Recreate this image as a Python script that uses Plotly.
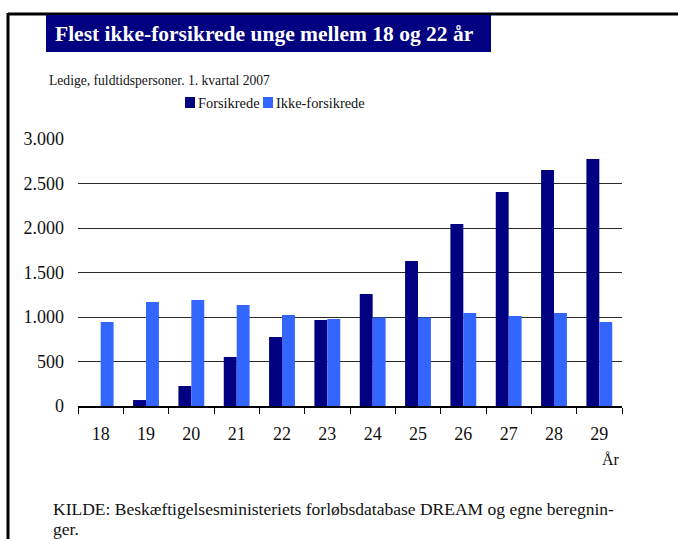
import plotly.graph_objects as go

ages = ["18", "19", "20", "21", "22", "23", "24", "25", "26", "27", "28", "29"]
forsikrede = [0, 67, 225, 551, 775, 966, 1258, 1629, 2045, 2404, 2652, 2775]
ikke_forsikrede = [945, 1169, 1191, 1135, 1022, 978, 993, 993, 1045, 1011, 1045, 944]
y_ticks = [0, 500, 1000, 1500, 2000, 2500, 3000]

title_text = "Flest ikke-forsikrede unge mellem 18 og 22 år"
subtitle_text = "Ledige, fuldtidspersoner. 1. kvartal 2007"
source_line1 = "KILDE: Beskæftigelsesministeriets forløbsdatabase DREAM og egne beregnin-"
source_line2 = "ger."
x_unit = "År"

DARK = "#000080"
LIGHT = "#3366FF"
FONT = "Liberation Serif"

W, H = 678, 539
L, R, T, B = 78, 622, 139, 406


def px(x):
    return (x - L) / (R - L)


def py(y):
    return (B - y) / (B - T)


fig = go.Figure()
fig.add_trace(go.Bar(x=ages, y=forsikrede, name="Forsikrede", marker_color=DARK,
                     marker_line_width=0))
fig.add_trace(go.Bar(x=ages, y=ikke_forsikrede, name="Ikke-forsikrede", marker_color=LIGHT,
                     marker_line_width=0))

shapes = []
annotations = []

# frame lines
shapes.append(dict(type="line", xref="paper", yref="paper", x0=px(8), x1=px(700),
                   y0=py(14), y1=py(14), line=dict(color="black", width=3)))
shapes.append(dict(type="line", xref="paper", yref="paper", x0=px(8), x1=px(8),
                   y0=py(13), y1=py(560), line=dict(color="black", width=3)))
# title box
shapes.append(dict(type="rect", xref="paper", yref="paper", x0=px(46), x1=px(491),
                   y0=py(52), y1=py(15), fillcolor=DARK, line=dict(width=0)))
annotations.append(dict(text="<b>" + title_text + "</b>", xref="paper", yref="paper",
                        x=px(264.5), y=py(34), xanchor="center", yanchor="middle",
                        showarrow=False, font=dict(family=FONT, size=21.5, color="white")))
annotations.append(dict(text=subtitle_text, xref="paper", yref="paper",
                        x=px(47), y=py(81), xanchor="left", yanchor="middle",
                        showarrow=False, font=dict(family=FONT, size=13.6, color="#111")))
# legend
for (x0, label, col) in [(185, "Forsikrede", DARK), (263, "Ikke-forsikrede", LIGHT)]:
    shapes.append(dict(type="rect", xref="paper", yref="paper", x0=px(x0), x1=px(x0 + 10),
                       y0=py(108), y1=py(97), fillcolor=col, line=dict(width=0)))
    annotations.append(dict(text=label, xref="paper", yref="paper", x=px(x0 + 11), y=py(103),
                            xanchor="left", yanchor="middle", showarrow=False,
                            font=dict(family=FONT, size=14.4, color="#111")))
# unit label
annotations.append(dict(text=x_unit, xref="paper", yref="paper", x=px(611), y=py(459),
                        xanchor="center", yanchor="middle", showarrow=False,
                        font=dict(family=FONT, size=16, color="#111")))
# source
annotations.append(dict(text=source_line1, xref="paper", yref="paper", x=px(51), y=py(509),
                        xanchor="left", yanchor="middle", showarrow=False,
                        font=dict(family=FONT, size=17.5, color="#111")))
annotations.append(dict(text=source_line2, xref="paper", yref="paper", x=px(51), y=py(529),
                        xanchor="left", yanchor="middle", showarrow=False,
                        font=dict(family=FONT, size=17.5, color="#111")))

fig.update_layout(
    width=W, height=H,
    margin=dict(l=L, r=W - R, t=T, b=H - B, pad=0),
    paper_bgcolor="white", plot_bgcolor="white",
    barmode="group", bargap=0.43, bargroupgap=0,
    showlegend=False,
    separators=",.",
    font=dict(family=FONT, size=18, color="#111"),
    shapes=shapes, annotations=annotations,
    xaxis=dict(range=[-0.5, 11.5], showline=True, linecolor="black", linewidth=1.5,
               ticks="outside", tickson="boundaries", ticklen=6, tickcolor="black",
               tickwidth=1, showgrid=False, ticklabelstandoff=11,
               tickfont=dict(family=FONT, size=18)),
    yaxis=dict(range=[0, 3000], tickvals=y_ticks, tickformat=",d", showgrid=True,
               gridcolor="#2a2a2a", gridwidth=1, zeroline=False, showline=False,
               ticks="", ticklabelstandoff=13, tickfont=dict(family=FONT, size=18)),
    yaxis2=dict(range=[0, 3000], tickvals=y_ticks, tickformat=",d", overlaying="y",
                side="right", showgrid=False, zeroline=False, showline=False, ticks="",
                ticklabelstandoff=12, tickfont=dict(family=FONT, size=18)),
)

fig.write_html("out.html", config={"displayModeBar": False},
               post_script="document.body.style.margin='0';document.body.style.padding='0';")
